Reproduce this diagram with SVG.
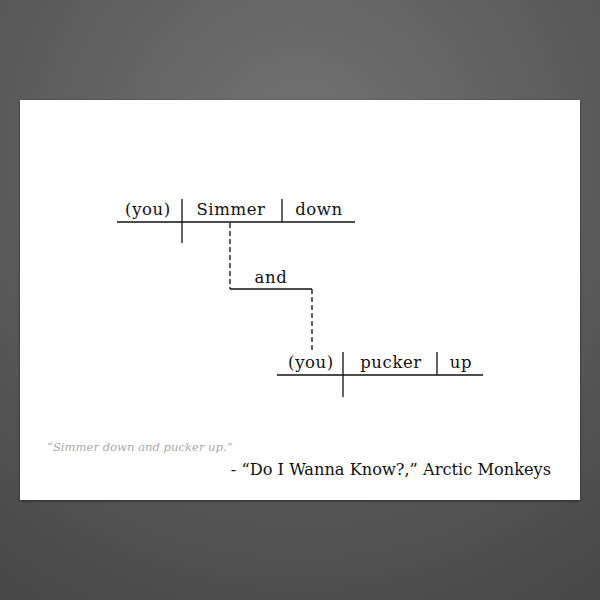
<svg xmlns="http://www.w3.org/2000/svg" width="600" height="600" viewBox="0 0 600 600">
<defs>
<radialGradient id="bg" cx="300" cy="150" r="520" gradientUnits="userSpaceOnUse">
<stop offset="0" stop-color="#737373"/>
<stop offset="1" stop-color="#484848"/>
</radialGradient>
<filter id="sh" x="-5%" y="-5%" width="110%" height="110%">
<feDropShadow dx="0" dy="1" stdDeviation="1.5" flood-color="#000" flood-opacity="0.5"/>
</filter>
<style>
.w{font-family:"DejaVu Serif","Liberation Serif",serif;font-size:16.5px;letter-spacing:0.6px;fill:#111;text-anchor:middle}
.l{stroke:#111;stroke-width:1.3;fill:none}
.d{stroke:#111;stroke-width:1.3;fill:none;stroke-dasharray:5 3}
</style>
</defs>
<rect width="600" height="600" fill="url(#bg)"/>
<rect x="20" y="100" width="560" height="400" fill="#fff" filter="url(#sh)"/>
<g id="clause1">
<line class="l" x1="117" y1="222" x2="355" y2="222"/>
<line class="l" x1="182" y1="199" x2="182" y2="243"/>
<line class="l" x1="282" y1="199" x2="282" y2="222"/>
<text class="w" x="148" y="215">(you)</text>
<text class="w" x="231" y="215">Simmer</text>
<text class="w" x="319" y="215">down</text>
</g>
<g id="conj">
<line class="l" x1="230" y1="289" x2="312" y2="289"/>
<text class="w" x="271" y="283">and</text>
</g>
<g id="clause2">
<line class="l" x1="277" y1="375" x2="483" y2="375"/>
<line class="l" x1="343" y1="352" x2="343" y2="397"/>
<line class="l" x1="437" y1="352" x2="437" y2="375"/>
<text class="w" x="311" y="368">(you)</text>
<text class="w" x="391" y="368">pucker</text>
<text class="w" x="461" y="368">up</text>
</g>
<g id="connectors">
<line class="d" x1="230" y1="223" x2="230" y2="289"/>
<line class="d" x1="312" y1="289" x2="312" y2="350"/>
</g>
<text x="47" y="451" font-family="'DejaVu Serif','Liberation Serif',serif" font-style="italic" font-size="11.6" fill="#aaa">“Simmer down and pucker up.”</text>
<text x="551" y="475" font-family="'DejaVu Serif','Liberation Serif',serif" font-size="16.2" fill="#111" text-anchor="end">- “Do I Wanna Know?,” Arctic Monkeys</text>
</svg>
